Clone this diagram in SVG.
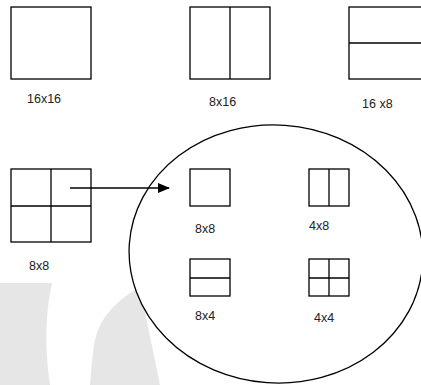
<svg xmlns="http://www.w3.org/2000/svg" width="421" height="385" viewBox="0 0 421 385">
<style>
.box{fill:none;stroke:#000;stroke-width:1.3}
.ln{stroke:#000;stroke-width:1.3}
.lbl{font-family:"Liberation Sans",Arial,sans-serif;font-size:12.5px;fill:#222}
.wm{fill:#e6e6e6}
</style>
<defs>
<marker id="ah" markerWidth="12" markerHeight="10" refX="11" refY="5" orient="auto" markerUnits="userSpaceOnUse">
<path d="M0,0 L12,5 L0,10 Z" fill="#000"/>
</marker>
</defs>
<rect width="421" height="385" fill="#fff"/>
<g id="watermark">
<path class="wm" d="M0,283 L52,283 C46,310 44,345 50,385 L0,385 Z"/>
<path class="wm" d="M140,288 C115,300 98,320 94,345 C92,360 91,372 90,385 L160,385 Z"/>
</g>
<g id="zoom-ellipse">
<ellipse cx="276" cy="254" rx="147" ry="129" transform="rotate(4 276 254)" fill="#fff" stroke="#000" stroke-width="1.3"/>
</g>
<g id="n16x16">
<rect class="box" x="11" y="7" width="80" height="72"/>
<text class="lbl" x="27" y="103">16x16</text>
</g>
<g id="n8x16">
<rect class="box" x="190" y="7" width="80" height="72"/>
<line class="ln" x1="230" y1="7" x2="230" y2="79"/>
<text class="lbl" x="209" y="106">8x16</text>
</g>
<g id="n16x8">
<rect class="box" x="349" y="7" width="80" height="72"/>
<line class="ln" x1="349" y1="43" x2="421" y2="43"/>
<text class="lbl" x="362" y="108">16 x8</text>
</g>
<g id="n8x8-big">
<rect x="0" y="245" width="118" height="38" fill="#fff"/>
<rect class="box" x="11" y="169" width="80" height="73"/>
<line class="ln" x1="51" y1="169" x2="51" y2="242"/>
<line class="ln" x1="11" y1="206" x2="91" y2="206"/>
<text class="lbl" x="29" y="270">8x8</text>
</g>
<g id="n8x8">
<rect class="box" x="190" y="169" width="40" height="37"/>
<text class="lbl" x="195" y="233">8x8</text>
</g>
<g id="n4x8">
<rect class="box" x="309" y="169" width="40" height="37"/>
<line class="ln" x1="329" y1="169" x2="329" y2="206"/>
<text class="lbl" x="309" y="230">4x8</text>
</g>
<g id="n8x4">
<rect class="box" x="190" y="259" width="40" height="37"/>
<line class="ln" x1="190" y1="278" x2="230" y2="278"/>
<text class="lbl" x="195" y="320">8x4</text>
</g>
<g id="n4x4">
<rect class="box" x="309" y="259" width="40" height="37"/>
<line class="ln" x1="329" y1="259" x2="329" y2="296"/>
<line class="ln" x1="309" y1="278" x2="349" y2="278"/>
<text class="lbl" x="314" y="322">4x4</text>
</g>
<g id="connectors">
<line class="ln" x1="70" y1="188" x2="169" y2="188" marker-end="url(#ah)"/>
</g>
</svg>
